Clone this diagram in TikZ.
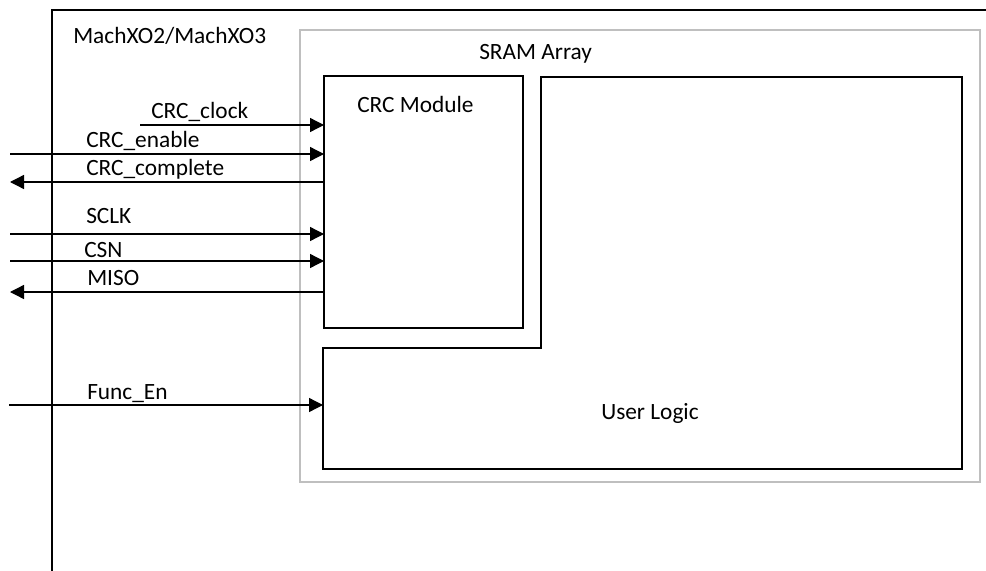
\documentclass[tikz,border=0pt]{standalone}
\usepackage{fontspec}
\setmainfont{Carlito}
\usetikzlibrary{arrows.meta}

\begin{document}
\begin{tikzpicture}[x=.75pt,y=-.75pt,
 font=\fontsize{17.5}{21}\selectfont,
 box/.style={draw,line width=1.1pt},
 sig/.style={line width=1pt,-{Triangle[length=10.5pt,width=10.5pt]}},
 lbl/.style={anchor=base west,inner sep=0pt}]
\useasboundingbox (0,0) rectangle (986,571);
% boundary
\draw[box] (986,10)--(52,10)--(52,571);
\node[lbl] (chip) at (73,43) {MachXO2/MachXO3};
\draw[line width=1.4pt,black!25] (300,30) rectangle (980,482);
\node[lbl] (sram) at (479,60) {SRAM Array};
% blocks
\node[box,minimum width=149.25pt,minimum height=189pt,outer sep=0pt] (crc) at (423.5,202) {};
\node[lbl] (crclbl) at (357,112) {CRC Module};
\draw[box] (541,77)--(962,77)--(962,469)--(323,469)--(323,348)--(541,348)--cycle;
\node[lbl] (user) at (601,419) {User Logic};
%ends
\coordinate (clk) at (140,125);
\coordinate (en) at (10,154);
\coordinate (done) at (10,182);
\coordinate (sclk) at (10,234);
\coordinate (csn) at (10,261);
\coordinate (miso) at (10,292);
\coordinate (func) at (9,405);
\coordinate (ulin) at (323,405);
% signals
\draw[sig] (clk)--(clk-|crc.west);
\draw[sig] (en)--(en-|crc.west);
\draw[sig] (crc.west|-done)--(done);
\draw[sig] (sclk)--(sclk-|crc.west);
\draw[sig] (csn)--(csn-|crc.west);
\draw[sig] (crc.west|-miso)--(miso);
\draw[sig] (func)--(ulin);
% labels
\node[lbl] (clklbl) at (151,118) {CRC\_clock};
\node[lbl] (enlbl) at (86,147) {CRC\_enable};
\node[lbl] (donelbl) at (86,175) {CRC\_complete};
\node[lbl] (sclklbl) at (86,223) {SCLK};
\node[lbl] (csnlbl) at (84,257) {CSN};
\node[lbl] (misolbl) at (87,285) {MISO};
\node[lbl] (funclbl) at (87,399) {Func\_En};
\end{tikzpicture}
\end{document}
